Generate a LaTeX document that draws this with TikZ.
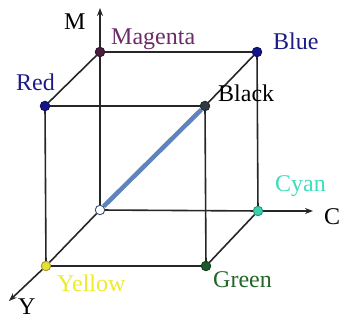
\documentclass[tikz,border=0pt]{standalone}
\usepackage{fontspec}
\setmainfont{Liberation Serif}
\usepackage{xcolor}
\usetikzlibrary{arrows.meta}
\definecolor{EdgeGray}{HTML}{262626}
\definecolor{DiagBlue}{HTML}{5D84BC}
\definecolor{MagText}{HTML}{6A2C68}
\definecolor{MagDot}{HTML}{4A1C3E}
\definecolor{BlueText}{HTML}{1C1C86}
\definecolor{BlueDot}{HTML}{14148C}
\definecolor{CyanText}{HTML}{3FDDBD}
\definecolor{CyanDot}{HTML}{3CCFAE}
\definecolor{YelText}{HTML}{EDEB2A}
\definecolor{YelDot}{HTML}{E6DF34}
\definecolor{GreenText}{HTML}{22662A}
\definecolor{GreenDot}{HTML}{1B5A2C}
\definecolor{BlackDot}{HTML}{2F3A44}

\begin{document}
\begin{tikzpicture}[x=1pt, y=-1pt,
  corner/.style={circle, draw=#1!70!black, fill=#1, line width=0.9pt,
    inner sep=0pt, minimum size=9.5pt},
  edge/.style={draw=EdgeGray, line width=1.6pt},
  axis/.style={edge, -{Stealth[length=8pt, width=6pt]}},
  lbl/.style={anchor=base west, inner sep=0pt, font=\fontsize{24}{24}\selectfont}
]
  \useasboundingbox (0,0) rectangle (346,320);

  % cube corners
  \node[corner=white, draw=DiagBlue!60!black] (white) at (100,210) {};
  \node[corner=MagDot] (magenta) at (100,52) {};
  \node[corner=BlueDot] (blue) at (257,52) {};
  \node[corner=BlueDot] (red) at (45,106) {};
  \node[corner=BlackDot] (black) at (205,106) {};
  \node[corner=CyanDot] (cyan) at (258,211) {};
  \node[corner=YelDot] (yellow) at (46,266) {};
  \node[corner=GreenDot] (green) at (206,266) {};

  \coordinate (mtip) at (100,8);
  \coordinate (ctip) at (313,211);
  \coordinate (ytip) at (9,301);

  % edges
  \draw[edge] (magenta) -- (blue);
  \draw[edge] (red) -- (black);
  \draw[edge] (yellow) -- (green);
  \draw[edge] (red) -- (yellow);
  \draw[edge] (black) -- (green);
  \draw[edge] (blue) -- (cyan);
  \draw[edge] (red) -- (magenta);
  \draw[edge] (black) -- (blue);
  \draw[edge] (green) -- (cyan);

  % axes
  \draw[axis] (white) -- (magenta) -- (mtip);
  \draw[axis] (white) -- (cyan) -- (ctip);
  \draw[axis] (white) -- (yellow) -- (ytip);

  % grey diagonal
  \draw[DiagBlue, line width=4.5pt] (white) -- (black);

  % labels
  \node[lbl] (mlbl) at (64,30) {M};
  \node[lbl, text=MagText] (maglbl) at (111,45) {Magenta};
  \node[lbl, text=BlueText] (bluelbl) at (273,50) {Blue};
  \node[lbl, text=BlueText] (redlbl) at (16,91) {Red};
  \node[lbl] (blacklbl) at (218,102) {Black};
  \node[lbl, text=CyanText] (cyanlbl) at (275,192) {Cyan};
  \node[lbl] (clbl) at (324,225) {C};
  \node[lbl, text=YelText] (yellbl) at (57,292) {Yellow};
  \node[lbl, text=GreenText] (greenlbl) at (213,288) {Green};
  \node[lbl] (ylbl) at (18,315) {Y};
\end{tikzpicture}
\end{document}
